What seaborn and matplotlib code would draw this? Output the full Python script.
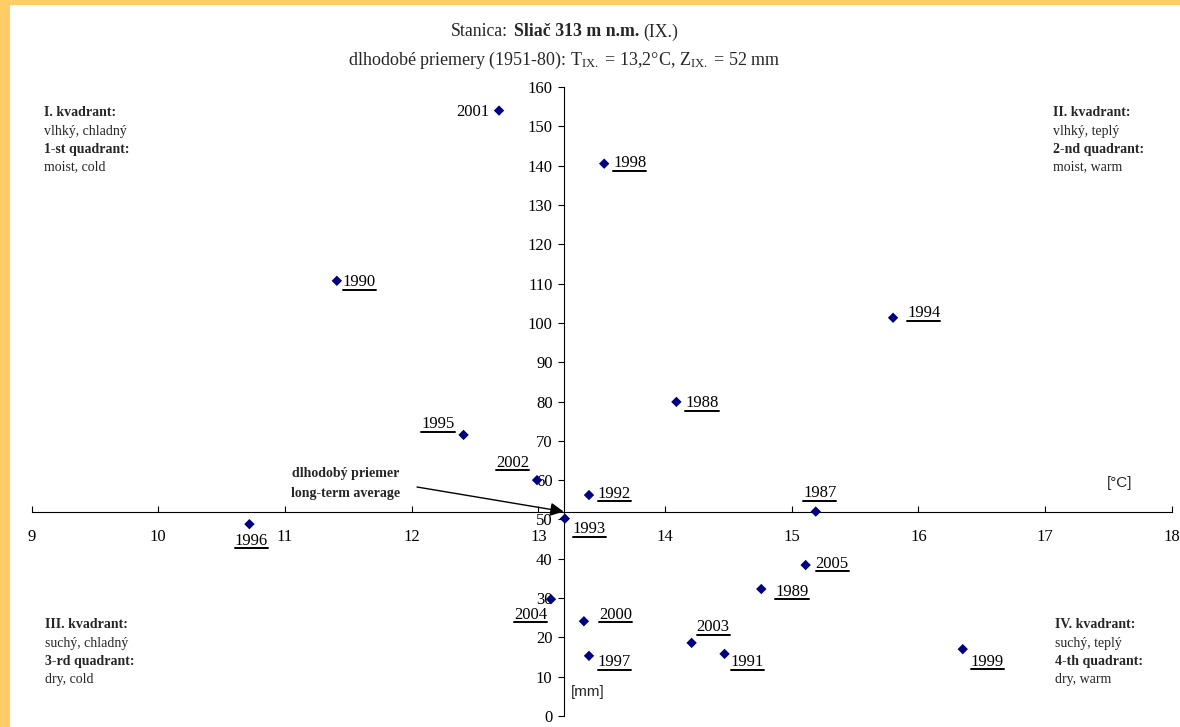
import numpy as np
import matplotlib
matplotlib.use("Agg")
import matplotlib.pyplot as plt
import seaborn as sns
from matplotlib.patches import Rectangle
from matplotlib.lines import Line2D
from matplotlib.transforms import IdentityTransform

# --- data (September, station Sliac) ---
years = ["2001", "1998", "1990", "1994", "1988", "1995", "2002", "1992", "1987", "1996",
         "1993", "2005", "1989", "2004", "2000", "2003", "1997", "1991", "1999"]
temps = [12.69, 13.52, 11.41, 15.80, 14.09, 12.41, 12.99, 13.40, 15.19, 10.72,
         13.21, 15.11, 14.76, 13.10, 13.36, 14.21, 13.40, 14.47, 16.35]
precip = [154.0, 140.5, 110.7, 101.3, 79.9, 71.5, 60.0, 56.2, 52.0, 48.8,
          50.2, 38.4, 32.3, 29.7, 24.1, 18.6, 15.3, 15.8, 17.0]

T_MEAN = 13.2   # long-term mean temperature
Z_MEAN = 52     # long-term mean precipitation

x_ticks = list(range(9, 19))
y_ticks = list(range(0, 161, 10))

# label placement: (ha, dx px, dy px of glyph centre, screen-down positive)
label_pos = {
    "2001": ("right", -10, 0), "1998": ("left", 9, -2), "1990": ("left", 6, 0),
    "1994": ("left", 14, -6), "1988": ("left", 9, 0), "1995": ("right", -9, -12),
    "2002": ("right", -8, -19), "1992": ("left", 9, -3), "1987": ("center", 4, -20),
    "1996": ("center", 2, 15), "1993": ("left", 8, 9), "2005": ("left", 10, -3),
    "1989": ("left", 14, 1), "2004": ("right", -4, 14), "2000": ("left", 15, -8),
    "2003": ("left", 5, -17), "1997": ("left", 9, 5), "1991": ("left", 6, 7),
    "1999": ("left", 8, 11),
}

W, H = 1180, 727
sns.set_theme(style="white")
plt.rcParams["font.family"] = ["Liberation Serif", "DejaVu Serif"]
plt.rcParams["mathtext.fontset"] = "custom"
plt.rcParams["mathtext.rm"] = "Liberation Serif"
plt.rcParams["mathtext.it"] = "Liberation Serif:italic"
plt.rcParams["mathtext.bf"] = "Liberation Serif:bold"

fig = plt.figure(figsize=(W / 100, H / 100), dpi=100)
fig.patch.set_facecolor("#FFCC66")
fig.add_artist(Rectangle((10 / W, 0), 1, (H - 5) / H, transform=fig.transFigure,
                         facecolor="white", edgecolor="none", zorder=-10))


def px(x, y):
    return x / W, 1 - y / H


ax = fig.add_axes([31.5 / W, 11 / H, 1140.3 / W, 629 / H])
ax.set_facecolor("none")
sns.scatterplot(x=temps, y=precip, marker="D", color="#000080", s=28,
                edgecolor="none", ax=ax, legend=False, zorder=5)

ax.set_xlim(9, 18)
ax.set_ylim(0, 160)
ax.set_xticks(x_ticks)
ax.set_yticks(y_ticks)
ax.spines["left"].set_position(("data", T_MEAN))
ax.spines["bottom"].set_position(("data", Z_MEAN))
ax.spines["top"].set_visible(False)
ax.spines["right"].set_visible(False)
for s in ("left", "bottom"):
    ax.spines[s].set_color("black")
    ax.spines[s].set_linewidth(0.8)
ax.tick_params(axis="x", direction="in", length=4, width=0.8, pad=12.5,
               labelsize=12, colors="black", bottom=True)
ax.tick_params(axis="y", direction="out", length=4, width=0.8, pad=4,
               labelsize=12, colors="black", left=True)
ax.grid(False)

# point labels
ann = []
for yr, t, z in zip(years, temps, precip):
    ha, dx, dy = label_pos[yr]
    # baseline sits ~5.5 px below glyph centre
    off = (dx * 0.72, -(dy + 5.5) * 0.72)
    a = ax.annotate(yr, xy=(t, z), xytext=off, textcoords="offset points",
                    ha=ha, va="baseline", fontsize=12, color="black")
    ann.append((yr, t, z, off, a))

# title
fig.canvas.draw()
renderer = fig.canvas.get_renderer()
pieces = [("Stanica:", "normal"), ("Sliač 313 m n.m.", "bold"), ("(IX.)", "normal")]
texts = [fig.text(0, px(0, 32)[1], s, fontsize=12.8, fontweight=w, va="center", ha="left")
         for s, w in pieces]
widths = [tt.get_window_extent(renderer).width for tt in texts]
gap = 5
xcur = 565 - (sum(widths) + gap * (len(widths) - 1)) / 2
for tt, wd in zip(texts, widths):
    tt.set_x(xcur / W)
    xcur += wd + gap
fig.text(*px(564, 60), r"dlhodobé priemery (1951-80): T$_{\mathrm{IX.}}$ = 13,2°C, "
         r"Z$_{\mathrm{IX.}}$ = 52 mm", fontsize=13, ha="center", va="center")

# quadrant descriptions
quads = [
    (44, 113, ["I. kvadrant:", "vlhký, chladný", "1-st quadrant:", "moist, cold"]),
    (1053, 113, ["II. kvadrant:", "vlhký, teplý", "2-nd quadrant:", "moist, warm"]),
    (45, 625, ["III. kvadrant:", "suchý, chladný", "3-rd quadrant:", "dry, cold"]),
    (1055, 625, ["IV. kvadrant:", "suchý, teplý", "4-th quadrant:", "dry, warm"]),
]
for qx, qy, lines in quads:
    for i, line in enumerate(lines):
        fig.text(*px(qx, qy + i * 18), line, fontsize=10,
                 fontweight="bold" if i % 2 == 0 else "normal", ha="left", va="center")

# long-term average arrow
fig.text(*px(346, 473), "dlhodobý priemer", fontsize=10, fontweight="bold", ha="center", va="center")
fig.text(*px(346, 493), "long-term average", fontsize=10, fontweight="bold", ha="center", va="center")
ax.annotate("", xy=(T_MEAN, Z_MEAN), xytext=px(417, 487), textcoords="figure fraction",
            arrowprops=dict(arrowstyle="-|>", color="black", lw=1, mutation_scale=20,
                            shrinkA=0, shrinkB=0), zorder=6)

# units
fig.text(*px(1120, 483), "[°C]", fontsize=11, family="Liberation Sans", ha="center", va="center")
fig.text(*px(588, 692), "[mm]", fontsize=11, family="Liberation Sans", ha="center", va="center")

# underlines for year labels (all except 2001)
fig.canvas.draw()
renderer = fig.canvas.get_renderer()
for yr, t, z, off, a in ann:
    if yr == "2001":
        continue
    bb = a.get_window_extent(renderer)
    base = ax.transData.transform((t, z))[1] + off[1] * fig.dpi / 72
    yl = base - 3.5
    fig.add_artist(Line2D([bb.x0, bb.x1], [yl, yl], transform=IdentityTransform(),
                          color="black", lw=1.4))

fig.savefig("out.png", dpi=100, facecolor=fig.get_facecolor())
